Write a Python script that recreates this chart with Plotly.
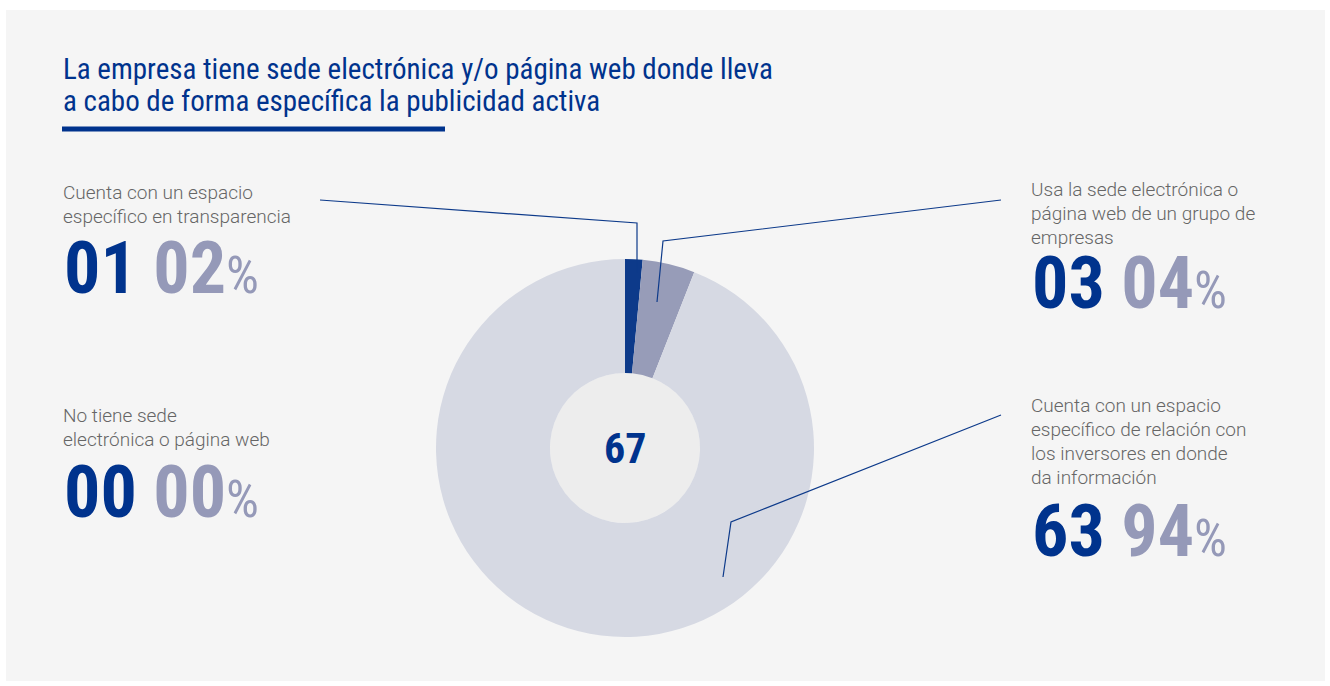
import plotly.graph_objects as go

# Survey breakdown (number of companies per answer)
categories = [
    "Cuenta con un espacio específico en transparencia",
    "Usa la sede electrónica o página web de un grupo de empresas",
    "Cuenta con un espacio específico de relación con los inversores en donde da información",
    "No tiene sede electrónica o página web",
]
counts = [1, 3, 63, 0]
percents = ["02", "04", "94", "00"]
total_label = "67"

title_lines = [
    "La empresa tiene sede electrónica y/o página web donde lleva",
    "a cabo de forma específica la publicidad activa",
]
label_lines = [
    ["Cuenta con un espacio", "específico en transparencia"],
    ["Usa la sede electrónica o", "página web de un grupo de", "empresas"],
    ["Cuenta con un espacio", "específico de relación con", "los inversores en donde", "da información"],
    ["No tiene sede", "electrónica o página web"],
]

W, H = 1330, 686
DARK = "#00338d"
MUTED = "#9599b8"
TEXT_GRAY = "#666666"
slice_colors = ["#0d3a8a", "#979cb8", "#d6d9e3", "#c9ccd8"]

COND = "Roboto, Open Sans, sans-serif"
BODY = "Roboto, Liberation Sans, sans-serif"


def condensed(html):
    return f"<span style='font-stretch:condensed'>{html}</span>"


cx, cy, r_out, r_in = 625, 448, 189, 75

fig = go.Figure()
fig.add_trace(go.Pie(
    labels=categories,
    values=counts,
    sort=False,
    direction="clockwise",
    rotation=0,
    hole=r_in / r_out,
    marker=dict(colors=slice_colors, line=dict(width=0)),
    textinfo="none",
    hoverinfo="label+value",
    showlegend=False,
    domain=dict(x=[(cx - r_out) / W, (cx + r_out) / W],
                y=[(H - cy - r_out) / H, (H - cy + r_out) / H]),
))

shapes = [
    # card background
    dict(type="rect", xref="x", yref="y", x0=6, y0=10, x1=1325, y1=681,
         fillcolor="#f5f5f5", line=dict(width=0), layer="below"),
    # donut centre disc
    dict(type="circle", xref="x", yref="y", x0=cx - r_in, y0=cy - r_in,
         x1=cx + r_in, y1=cy + r_in, fillcolor="#ededed",
         line=dict(width=0), layer="below"),
    # title underline
    dict(type="rect", xref="x", yref="y", x0=62, y0=126.5, x1=445, y1=131.5,
         fillcolor=DARK, line=dict(width=0), layer="above"),
]

# leader lines from each label to its slice
leaders = [
    [(320, 200), (637, 223), (637, 273)],
    [(1001, 200), (663, 241), (657, 302)],
    [(1001, 415), (731, 522), (723, 577)],
]
for pts in leaders:
    path = "M " + " L ".join(f"{x},{y}" for x, y in pts)
    shapes.append(dict(type="path", xref="x", yref="y", path=path,
                       line=dict(color="#0d3a8a", width=1.2), layer="above"))

annotations = []
# title
for i, line in enumerate(title_lines):
    annotations.append(dict(
        x=61, y=[69, 101][i], xref="x", yref="y", text=condensed(line), showarrow=False,
        xanchor="left", yanchor="middle",
        font=dict(family=COND, size=29, color=DARK)))

# label blocks: (x, y of first line centre, y of big number centre)
blocks = [
    (62, 192, 268),
    (1030, 189, 283),
    (1030, 405, 531),
    (62, 415, 492),
]
for (bx, by, ny), lines, n, pct in zip(blocks, label_lines, counts, percents):
    for j, line in enumerate(lines):
        annotations.append(dict(
            x=bx - 1, y=by + 24 * j, xref="x", yref="y", text=line, showarrow=False,
            xanchor="left", yanchor="middle",
            font=dict(family=BODY, size=19, color=TEXT_GRAY, weight=300)))
    big = (f"<b>{n:02d}</b> <span style='color:{MUTED}'><b>{pct}</b></span>"
           f"<span style='color:{MUTED};font-size:52px'>%</span>")
    annotations.append(dict(
        x=bx, y=ny, xref="x", yref="y", text=condensed(big), showarrow=False,
        xanchor="left", yanchor="middle",
        font=dict(family=COND, size=72, color=DARK)))

annotations.append(dict(
    x=cx, y=cy, xref="x", yref="y", text=condensed(f"<b>{total_label}</b>"),
    showarrow=False, xanchor="center", yanchor="middle",
    font=dict(family=COND, size=42, color=DARK)))

fig.update_layout(
    width=W, height=H,
    margin=dict(l=0, r=0, t=0, b=0),
    paper_bgcolor="white",
    plot_bgcolor="rgba(0,0,0,0)",
    xaxis=dict(range=[0, W], visible=False, fixedrange=True),
    yaxis=dict(range=[H, 0], visible=False, fixedrange=True),
    shapes=shapes,
    annotations=annotations,
    showlegend=False,
)

fig.write_html("out.html")
